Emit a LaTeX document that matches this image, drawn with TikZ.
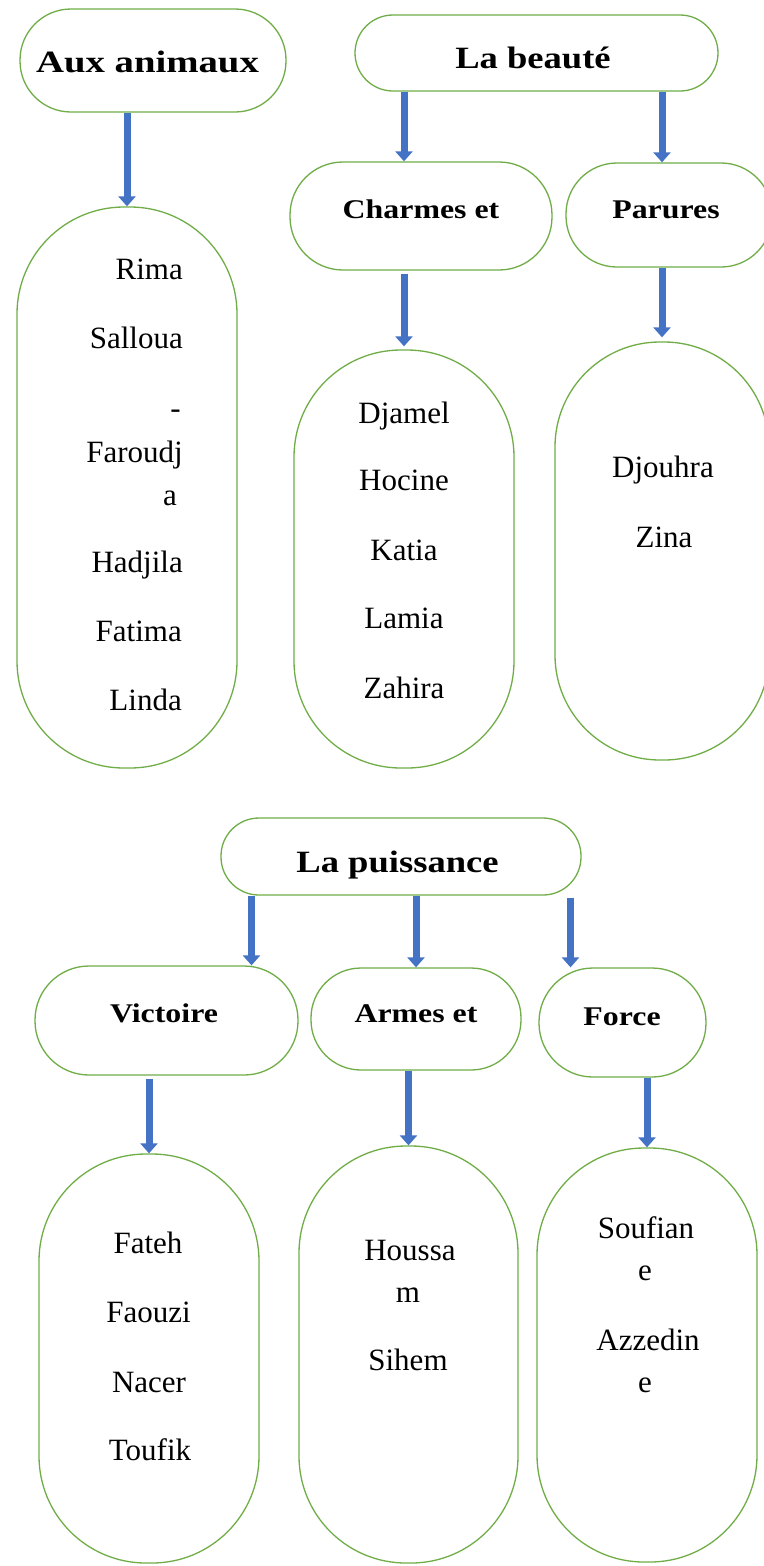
\documentclass[tikz,border=0pt]{standalone}
\usepackage{fontspec}
\setmainfont{Liberation Serif}
\usetikzlibrary{arrows.meta,calc}
\definecolor{gline}{HTML}{70AD47}
\definecolor{ablue}{HTML}{4472C4}
\newcommand{\hstretch}[1]{\scalebox{1.18}[1]{#1}}
\tikzset{
  box/.style={draw=gline, line width=1.3pt, rounded corners=#1, inner sep=0pt, fill=white},
  hdbig/.style={font=\bfseries\fontsize{31}{31}\selectfont, anchor=base, inner sep=0pt},
  hdsmall/.style={font=\bfseries\fontsize{27}{27}\selectfont, anchor=base, inner sep=0pt},
  nm/.style={font=\fontsize{31}{31}\selectfont, anchor=base, inner sep=0pt},
  nmr/.style={nm, anchor=base east},
  arr/.style={draw=ablue, line width=7pt, -{Triangle[width=17pt,length=10pt]}},
}
\begin{document}
\begin{tikzpicture}[x=1pt,y=-1pt]
\useasboundingbox[fill=white] (0,0) rectangle (763,1566);

% ---- top section: boxes
\node[box=51pt, minimum width=266pt, minimum height=103pt] (aux) at (153,60.5) {};
\node[box=38pt, minimum width=363pt, minimum height=76pt] (beaute) at (536.5,53) {};
\node[box=53pt, minimum width=262pt, minimum height=108pt] (charmes) at (421,216) {};
\node[box=51pt, minimum width=206pt, minimum height=104pt] (parures) at (669,215) {};
\node[box=107pt, minimum width=220pt, minimum height=561pt] (o1) at (127,487.5) {};
\node[box=107pt, minimum width=220pt, minimum height=418pt] (o2) at (404,559) {};
\node[box=105pt, minimum width=214pt, minimum height=418pt] (o3) at (662,551) {};

% ---- bottom section: boxes
\node[box=38pt, minimum width=360pt, minimum height=77pt] (puissance) at (401,856.5) {};
\node[box=54pt, minimum width=263pt, minimum height=109pt] (victoire) at (166.5,1020.5) {};
\node[box=50pt, minimum width=210pt, minimum height=102pt] (armes) at (416,1019) {};
\node[box=54pt, minimum width=167pt, minimum height=109pt] (force) at (622.5,1022.5) {};
\node[box=107pt, minimum width=220pt, minimum height=409pt] (o4) at (149,1358.5) {};
\node[box=107pt, minimum width=219pt, minimum height=417pt] (o5) at (408.5,1354.5) {};
\node[box=107pt, minimum width=220pt, minimum height=414pt] (o6) at (647,1355) {};

% ---- header texts
\node[hdbig] (tAux) at (147.5,72) {\scalebox{1.25}[1]{Aux animaux}};
\node[hdbig] (tBeaute) at (533,68) {\hstretch{La beauté}};
\node[hdsmall] (tCharmes) at (421,218) {\hstretch{Charmes et}};
\node[hdsmall] (tParures) at (666,218) {\hstretch{Parures}};
\node[hdbig] (tPuissance) at (397.5,872) {\hstretch{La puissance}};
\node[hdsmall] (tVictoire) at (164,1022) {\hstretch{Victoire}};
\node[hdsmall] (tArmes) at (416,1022) {\hstretch{Armes et}};
\node[hdsmall] (tForce) at (622,1025) {\hstretch{Force}};

% ---- names, oval 1 (right aligned)
\node[nmr] (n11) at (183,279) {Rima};
\node[nmr] (n12) at (183,348) {Salloua};
\node[nmr] (n13) at (181,418) {-};
\node[nmr] (n14) at (183,462) {Faroudj};
\node[nmr] (n15) at (177,505) {a};
\node[nmr] (n16) at (183,572) {Hadjila};
\node[nmr] (n17) at (182,641) {Fatima};
\node[nmr] (n18) at (182,710) {Linda};

% ---- names, oval 2
\node[nm] (n21) at (404,423) {Djamel};
\node[nm] (n22) at (404,490) {Hocine};
\node[nm] (n23) at (404,560) {Katia};
\node[nm] (n24) at (404,628) {Lamia};
\node[nm] (n25) at (404,698) {Zahira};

% ---- names, oval 3
\node[nm] (n31) at (663,477) {Djouhra};
\node[nm] (n32) at (664,547) {Zina};

% ---- names, oval 4
\node[nm] (n41) at (148,1253) {Fateh};
\node[nm] (n42) at (148.5,1322) {Faouzi};
\node[nm] (n43) at (149,1392) {Nacer};
\node[nm] (n44) at (150,1460) {Toufik};

% ---- names, oval 5
\node[nm] (n51) at (410,1260) {Houssa};
\node[nm] (n52) at (408,1302) {m};
\node[nm] (n53) at (408,1370) {Sihem};

% ---- names, oval 6
\node[nm] (n61) at (646,1238) {Soufian};
\node[nm] (n62) at (645,1280) {e};
\node[nm] (n63) at (648,1350) {Azzedin};
\node[nm] (n64) at (645,1392) {e};

% ---- arrows, top section
\draw[arr] (aux.south -| o1.north) -- (o1.north);
\draw[arr] (beaute.south -| o2.north) -- (charmes.north -| o2.north);
\draw[arr] (beaute.south -| o3.north) -- (parures.north -| o3.north);
\draw[arr] ($(charmes.south -| o2.north)+(0,3)$) -- ($(o2.north)+(0,-3)$);
\draw[arr] (parures.south -| o3.north) -- ($(o3.north)+(0,-4)$);

% ---- arrows, bottom section
\coordinate (a6) at ($(victoire.north)+(85,0)$);
\coordinate (a8) at ($(force.north)+(-52,0)$);
\draw[arr] (a6 |- puissance.south) -- (a6);
\draw[arr] (puissance.south -| armes.north) -- (armes.north);
\draw[arr] ($(a8 |- puissance.south)+(0,2)$) -- (a8);
\draw[arr] ($(victoire.south -| o4.north)+(0,3)$) -- (o4.north);
\draw[arr] (armes.south -| o5.north) -- (o5.north);
\draw[arr] (force.south -| o6.north) -- (o6.north);
\end{tikzpicture}
\end{document}
